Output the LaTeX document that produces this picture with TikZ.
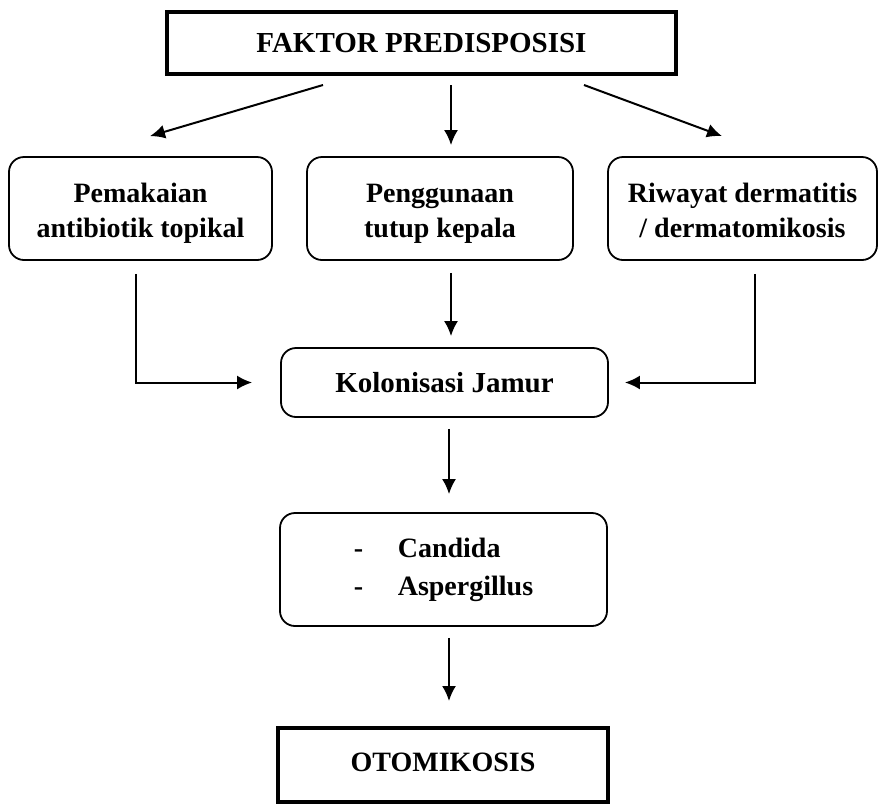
\documentclass[tikz,border=0pt]{standalone}
\usepackage{fontspec}
\setmainfont{Liberation Serif}
\usetikzlibrary{arrows.meta}
\begin{document}
\begin{tikzpicture}[x=1pt, y=-1pt,
    flowbox/.style={draw=black, line width=1.8pt, rounded corners=15pt, align=center,
      font=\bfseries\fontsize{28}{35}\selectfont, inner sep=0pt},
    endbox/.style={draw=black, line width=4pt, align=center,
      font=\bfseries\fontsize{29}{35}\selectfont, inner sep=0pt},
    arr/.style={draw=black, line width=2pt, -{Latex[length=15pt, width=14pt]}}]
    \useasboundingbox (0,0) rectangle (880,804);
    \node[endbox, minimum width=509pt, minimum height=62pt] (faktor) at (421.5,43) {FAKTOR PREDISPOSISI};
    \node[flowbox, minimum width=263pt, minimum height=103pt] (antibiotik) at (140.5,208.5) {\rule{0pt}{30pt}Pemakaian\\antibiotik topikal\rule[-8pt]{0pt}{8pt}};
    \node[flowbox, minimum width=266pt, minimum height=103pt] (tutup) at (440,208.5) {\rule{0pt}{30pt}Penggunaan\\tutup kepala\rule[-8pt]{0pt}{8pt}};
    \node[flowbox, minimum width=269pt, minimum height=103pt] (riwayat) at (742.5,208.5) {\rule{0pt}{30pt}Riwayat dermatitis\\/ dermatomikosis\rule[-8pt]{0pt}{8pt}};
    \node[flowbox, minimum width=327pt, minimum height=69pt, font=\bfseries\fontsize{29}{35}\selectfont] (kolonisasi) at (444.5,382.5) {Kolonisasi Jamur};
    \node[flowbox, minimum width=327pt, minimum height=113pt, align=left, font=\bfseries\fontsize{28}{38}\selectfont] (jamur) at (443.5,569.5) {\makebox[44pt][l]{-}Candida\\\makebox[44pt][l]{-}Aspergillus};
    \node[endbox, minimum width=330pt, minimum height=74pt, font=\bfseries\fontsize{28}{35}\selectfont] (otomikosis) at (443,765) {\raisebox{5pt}{OTOMIKOSIS}};
    \draw[arr] ([xshift=-98.5pt, yshift=-9pt]faktor.south) -- ([xshift=9.5pt, yshift=20pt]antibiotik.north);
    \draw[arr] ([xshift=29.5pt, yshift=-9pt]faktor.south) -- ([xshift=11pt, yshift=11pt]tutup.north);
    \draw[arr] ([xshift=162.5pt, yshift=-9pt]faktor.south) -- ([xshift=-20.5pt, yshift=20pt]riwayat.north);
    \draw[arr] ([xshift=-4.5pt, yshift=-13pt]antibiotik.south) |- ([xshift=-28pt]kolonisasi.west);
    \draw[arr] ([xshift=11pt, yshift=-12pt]tutup.south) -- ([xshift=6.5pt, yshift=11pt]kolonisasi.north);
    \draw[arr] ([xshift=12.5pt, yshift=-13pt]riwayat.south) |- ([xshift=16pt]kolonisasi.east);
    \draw[arr] ([xshift=4.5pt, yshift=-11pt]kolonisasi.south) -- ([xshift=5.5pt, yshift=18pt]jamur.north);
    \draw[arr] ([xshift=5.5pt, yshift=-11pt]jamur.south) -- ([xshift=6pt, yshift=25pt]otomikosis.north);
  \end{tikzpicture}
\end{document}
